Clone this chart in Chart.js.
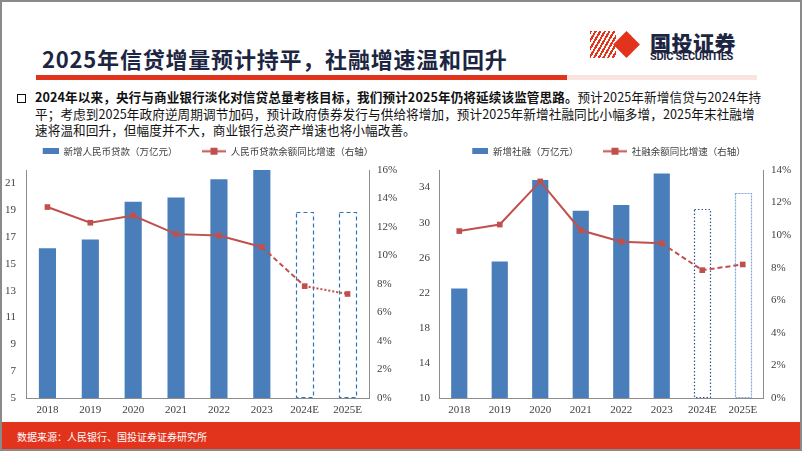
<!DOCTYPE html>
<html>
<head>
<meta charset="utf-8">
<script src="https://cdn.jsdelivr.net/npm/chart.js@4/dist/chart.umd.min.js"></script>
<style>
  html, body { margin: 0; padding: 0; background: #fff; }
  body { width: 802px; height: 451px; position: relative; overflow: hidden; font-family: "Noto Sans CJK SC", sans-serif; }
  .frame { position: absolute; left: 0; top: 0; width: 798px; height: 447px; border: 2px solid #8a8a8a; }
  .title { position: absolute; left: 42px; top: 42px; font-size: 22px; font-weight: 700; color: #1c2541; letter-spacing: 0.8px; white-space: nowrap; }
  .rule { position: absolute; left: 36px; top: 75px; width: 531px; height: 5px; background: #e2341d; }
  .rule2 { position: absolute; left: 567px; top: 75px; width: 190px; height: 5px; background: #fbe3df; }
  .stripes { position: absolute; left: 590px; top: 31px; width: 26px; height: 27px;
    background: repeating-linear-gradient(120deg, #e2341d 0 2px, #fff 2px 4px); }
  .diamond { position: absolute; left: 617px; top: 35px; width: 19px; height: 19px; background: #e2341d; transform: rotate(45deg); }
  .logo1 { position: absolute; left: 650px; top: 27px; font-size: 21px; font-weight: 900; color: #1c2541; letter-spacing: 0.5px; }
  .logo2 { position: absolute; left: 650px; top: 50px; font-size: 11px; font-weight: 700; color: #1c2541; font-family: "Roboto", sans-serif; letter-spacing: -0.3px; transform: scaleY(0.95); }
  .bullet { position: absolute; left: 17px; top: 94px; width: 7px; height: 7px; border: 1.5px solid #111; }
  .para { position: absolute; left: 35px; top: 89px; font-size: 12.6px; line-height: 16.5px; color: #111; white-space: nowrap; letter-spacing: 0.1px; }
  .para b { font-weight: 700; }
  .footer { position: absolute; left: 2px; top: 422px; width: 798px; height: 27px; background: #e2341d; }
  .footer span { position: absolute; left: 15px; top: 7px; font-size: 10px; color: #fff; }
  #c1 { position: absolute; left: 0; top: 129px; }
  #c2 { position: absolute; left: 400px; top: 129px; }
</style>
</head>
<body>
<div class="frame"></div>
<div class="title">2025年信贷增量预计持平，社融增速温和回升</div>
<div class="rule"></div><div class="rule2"></div>
<div class="stripes"></div><div class="diamond"></div>
<div class="logo1">国投证券</div>
<div class="logo2">SDIC SECURITIES</div>
<div class="bullet"></div>
<div class="para"><b>2024年以来，央行与商业银行淡化对信贷总量考核目标，我们预计2025年仍将延续该监管思路。</b>预计2025年新增信贷与2024年持<br>平；考虑到2025年政府逆周期调节加码，预计政府债券发行与供给将增加，预计2025年新增社融同比小幅多增，2025年末社融增<br>速将温和回升，但幅度并不大，商业银行总资产增速也将小幅改善。</div>
<canvas id="c1" width="400" height="293"></canvas>
<canvas id="c2" width="402" height="293"></canvas>
<div class="footer"><span>数据来源：人民银行、国投证券证券研究所</span></div>

<script>
const years = ['2018', '2019', '2020', '2021', '2022', '2023', '2024E', '2025E'];

// left: RMB loans
const newLoans = [16.17, 16.81, 19.63, 19.95, 21.31, 22.75, 18.85, 18.85];
const loanGrowth = [13.4, 12.3, 12.8, 11.5, 11.4, 10.6, 7.85, 7.3];
const loanTicks = [5, 7, 9, 11, 13, 15, 17, 19, 21];
const loanPctTicks = [0, 2, 4, 6, 8, 10, 12, 14, 16];

// right: social financing
const newTsf = [22.49, 25.58, 34.86, 31.35, 32.01, 35.59, 31.5, 33.4];
const tsfGrowth = [10.25, 10.65, 13.3, 10.3, 9.6, 9.5, 7.85, 8.2];
const tsfTicks = [10, 14, 18, 22, 26, 30, 34];
const tsfPctTicks = [0, 2, 4, 6, 8, 10, 12, 14];

const BLUE = '#4a7ebb';
const RED = '#c0504d';
const AXIS = '#8c8c8c';
const TXT = '#404040';
const SW = 32; // legend swatch box width (left part transparent to space items apart)

Chart.defaults.devicePixelRatio = 1;
Chart.defaults.animation = false;

function barSwatch() {
  const c = document.createElement('canvas');
  c.width = SW; c.height = 6;
  const g = c.getContext('2d');
  g.fillStyle = BLUE; g.fillRect(SW - 16, 0, 16, 6);
  return c;
}
function lineSwatch() {
  const c = document.createElement('canvas');
  c.width = SW; c.height = 9;
  const g = c.getContext('2d');
  g.fillStyle = RED;
  g.fillRect(SW - 24, 3.5, 24, 2);
  g.fillRect(SW - 15.5, 1, 7, 7);
  return c;
}

// dashed outline for forecast bars, drawn at the bar elements' own positions
const forecastBoxes = {
  id: 'forecastBoxes',
  afterDatasetDraw(chart, args, opts) {
    if (args.index !== 0) return;
    const meta = chart.getDatasetMeta(0);
    const ctx = chart.ctx;
    const bottom = chart.chartArea.bottom;
    ctx.save();
    opts.boxes.forEach(b => {
      const el = meta.data[b.index];
      const p = el.getProps(['x', 'y', 'width', 'base'], true);
      const base = Math.min(p.base, bottom);
      ctx.strokeStyle = b.color;
      ctx.lineWidth = b.lineWidth;
      ctx.setLineDash(b.dash);
      ctx.strokeRect(Math.round(p.x - p.width / 2) + 0.5, Math.round(p.y) + 0.5, Math.round(p.width), Math.round(base - p.y) - 1);
    });
    ctx.restore();
  }
};

function makeChart(id, cfg) {
  const tickFont = { family: '"Liberation Serif", serif', size: 11 };
  return new Chart(document.getElementById(id), {
    type: 'bar',
    data: {
      labels: years,
      datasets: [{
        label: cfg.barLabel,
        data: cfg.bars,
        backgroundColor: cfg.bars.map((v, i) => i < 6 ? BLUE : 'rgba(0,0,0,0)'),
        borderWidth: 0,
        barPercentage: 0.4,
        categoryPercentage: 1,
        yAxisID: 'y',
        order: 1
      }, {
        type: 'line',
        label: cfg.lineLabel,
        data: cfg.line,
        borderColor: RED,
        backgroundColor: RED,
        borderWidth: 2,
        pointStyle: 'rect',
        pointRadius: 4,
        pointBorderWidth: 0,
        yAxisID: 'y1',
        order: 0,
        segment: {
          borderDash: ctx => ctx.p0DataIndex >= 6 ? cfg.lastDash : (ctx.p0DataIndex === 5 ? [5, 3] : undefined)
        }
      }]
    },
    options: {
      responsive: false,
      layout: { padding: { top: 1, left: 0, right: 0, bottom: 0 } },
      plugins: {
        tooltip: { enabled: false },
        // empty spacer between legend and plot
        subtitle: { display: true, text: '', weight: 500, font: { size: 1, lineHeight: 1 }, padding: { top: 3, bottom: 0 } },
        legend: {
          labels: {
            usePointStyle: true,
            pointStyleWidth: SW,
            padding: 16.5,
            color: TXT,
            font: { family: '"Noto Sans CJK SC", sans-serif', size: 9.5 },
            generateLabels: () => [
              { text: cfg.barLabel, pointStyle: barSwatch(), fillStyle: BLUE, strokeStyle: BLUE, lineWidth: 0, hidden: false, datasetIndex: 0, fontColor: TXT },
              { text: cfg.lineLabel, pointStyle: lineSwatch(), fillStyle: RED, strokeStyle: RED, lineWidth: 0, hidden: false, datasetIndex: 1, fontColor: TXT }
            ]
          }
        },
        forecastBoxes: { boxes: cfg.boxes }
      },
      scales: {
        x: {
          grid: { display: false, drawTicks: false },
          border: { color: AXIS },
          ticks: { font: tickFont, color: TXT, padding: 6, maxRotation: 0 },
          afterFit: s => { s.height = cfg.xHeight; }
        },
        y: {
          position: 'left',
          min: cfg.yMin, max: cfg.yMax,
          afterBuildTicks: s => { s.ticks = cfg.yTicks.map(v => ({ value: v })); },
          grid: { display: false, drawTicks: false },
          border: { color: AXIS },
          ticks: { font: tickFont, color: TXT, padding: cfg.yPad },
          afterFit: s => { s.width = cfg.yWidth; }
        },
        y1: {
          position: 'right',
          min: cfg.pMin, max: cfg.pMax,
          afterBuildTicks: s => { s.ticks = cfg.pTicks.map(v => ({ value: v })); },
          grid: { display: false, drawTicks: false },
          border: { color: AXIS },
          ticks: { font: tickFont, color: TXT, padding: 8, callback: v => v + '%' },
          afterFit: s => { s.width = cfg.y1Width; }
        }
      }
    },
    plugins: [forecastBoxes]
  });
}

makeChart('c1', {
  barLabel: '新增人民币贷款（万亿元）',
  lineLabel: '人民币贷款余额同比增速（右轴）',
  bars: newLoans, line: loanGrowth,
  yMin: 5, yMax: 22, yTicks: loanTicks,
  pMin: 0, pMax: 16, pTicks: loanPctTicks,
  yWidth: 26, y1Width: 31, yPad: 10, xHeight: 24,
  lastDash: [2, 2],
  boxes: [
    { index: 6, color: '#2e75b6', lineWidth: 1.2, dash: [4, 3] },
    { index: 7, color: '#2e75b6', lineWidth: 1.2, dash: [4, 3] }
  ]
});

makeChart('c2', {
  barLabel: '新增社融（万亿元）',
  lineLabel: '社融余额同比增速（右轴）',
  bars: newTsf, line: tsfGrowth,
  yMin: 10, yMax: 36, yTicks: tsfTicks,
  pMin: 0, pMax: 14, pTicks: tsfPctTicks,
  yWidth: 39, y1Width: 39, yPad: 9, xHeight: 24,
  lastDash: [5, 3],
  boxes: [
    { index: 6, color: '#2f5597', lineWidth: 1.2, dash: [1.5, 2] },
    { index: 7, color: '#7fa9dc', lineWidth: 1.2, dash: [2, 1] }
  ]
});
</script>
</body>
</html>
